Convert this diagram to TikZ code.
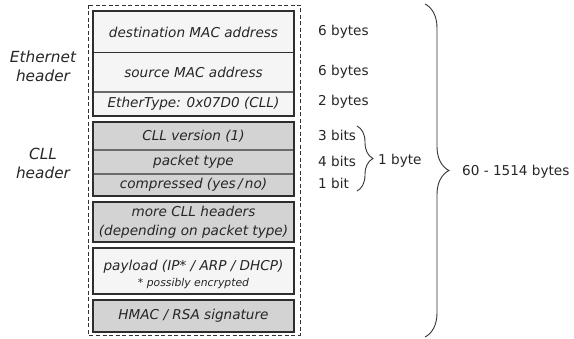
\documentclass[tikz,border=0pt]{standalone}
\usepackage{fontspec}
\setmainfont{DejaVu Sans}
\usetikzlibrary{decorations.pathreplacing}
\definecolor{rowgrey}{HTML}{D3D3D3}
\definecolor{rowlight}{HTML}{F5F5F5}
\definecolor{edge}{HTML}{2E2E2E}
\definecolor{divline}{HTML}{6A6A6A}
\tikzset{
  field/.style={minimum width=201pt, inner sep=0pt, outer sep=0pt},
  lightfield/.style={field, fill=rowlight},
  greyfield/.style={field, fill=rowgrey},
  fieldtext/.style={inner sep=0pt, align=center, text=black!85,
    font=\fontsize{13.6}{19}\selectfont\itshape},
  notetext/.style={inner sep=0pt, text=black!85,
    font=\fontsize{10.8}{12}\selectfont\itshape},
  frame/.style={draw=edge, line width=1.6pt},
  divider/.style={draw=divline, line width=1.1pt},
  darkdivider/.style={draw=edge, line width=1pt},
  sizelabel/.style={anchor=west, inner sep=0pt, text=black!85,
    font=\fontsize{13.6}{16}\selectfont},
  sidelabel/.style={align=center, inner sep=0pt, text=black!85,
    font=\fontsize{15.3}{19}\selectfont\itshape},
  bracket/.style={decorate, decoration={brace, amplitude=#1},
    draw=black!80, line width=0.9pt},
}
\begin{document}
\begin{tikzpicture}[x=1pt,y=-1pt]
\useasboundingbox (0,0) rectangle (574,339);

% outer dashed frame of the whole packet
\draw[black!80, line width=0.8pt, dash pattern=on 4pt off 2.5pt] (88,5) rectangle (300,335);

% Ethernet header fields
\node[lightfield, minimum height=42pt] (dst) at (193.5,32) {};
\node[lightfield, minimum height=39pt] (src) at (193.5,72.5) {};
\node[lightfield, minimum height=24pt] (etype) at (193.5,104) {};
\node[fieldtext] (dsttxt) at (dst) {destination MAC address};
\node[fieldtext] (srctxt) at (src) {source MAC address};
\node[fieldtext] (etypetxt) at (etype) {EtherType: 0x07D0 (CLL)};
\draw[darkdivider] (dst.south west) -- (dst.south east);
\draw[divider] (src.south west) -- (src.south east);
\draw[frame] (dst.north west) rectangle (etype.south east);

% CLL header fields
\node[greyfield, minimum height=28pt] (ver) at (193.5,136) {};
\node[greyfield, minimum height=24pt] (ptype) at (193.5,162) {};
\node[greyfield, minimum height=22pt] (comp) at (193.5,185) {};
\node[fieldtext] (vertxt) at (ver) {CLL version (1)};
\node[fieldtext] (ptypetxt) at (ptype) {packet type};
\node[fieldtext] (comptxt) at (comp) {compressed (yes\,/\,no)};
\draw[divider] (ver.south west) -- (ver.south east);
\draw[divider] (ptype.south west) -- (ptype.south east);
\draw[frame] (ver.north west) rectangle (comp.south east);

% further CLL headers
\node[greyfield, minimum height=40pt] (more) at (193.5,222) {};
\node[fieldtext] (moretxt) at (more) {more CLL headers\\(depending on packet type)};
\draw[frame] (more.north west) rectangle (more.south east);

% payload
\node[lightfield, minimum height=46pt] (payload) at (193.5,271) {};
\node[fieldtext] (payloadtxt) at (193.5,266.5) {payload (IP* / ARP / DHCP)};
\node[notetext] (note) at (193.5,284) {* possibly encrypted};
\draw[frame] (payload.north west) rectangle (payload.south east);

% signature
\node[greyfield, minimum height=32pt] (sig) at (193.5,316) {};
\node[fieldtext] (sigtxt) at (sig) {HMAC / RSA signature};
\draw[frame] (sig.north west) rectangle (sig.south east);

% section labels
\node[sidelabel] (ethlbl) at (43,66) {Ethernet\\header};
\node[sidelabel] (clllbl) at (43,163) {CLL\\header};

% field sizes
\node[sizelabel] (sz1) at (318,32) {6 bytes};
\node[sizelabel] (sz2) at (318,72) {6 bytes};
\node[sizelabel] (sz3) at (318,102) {2 bytes};
\node[sizelabel] (sz4) at (318,135) {3 bits};
\node[sizelabel] (sz5) at (318,161) {4 bits};
\node[sizelabel] (sz6) at (318,183) {1 bit};

% brace grouping the bit fields
\coordinate (sbtop) at (357,126);
\coordinate (sbbot) at (357,191);
\draw[bracket=16pt] (sbtop) -- (sbbot);
\node[sizelabel] (onebyte) at (378,161) {1 byte};

% brace over the whole frame
\coordinate (lbtop) at (425,4);
\coordinate (lbbot) at (425,337);
\draw[bracket=24pt] (lbtop) -- (lbbot);
\node[sizelabel] (total) at (462,172) {60 - 1514 bytes};
\end{tikzpicture}
\end{document}
